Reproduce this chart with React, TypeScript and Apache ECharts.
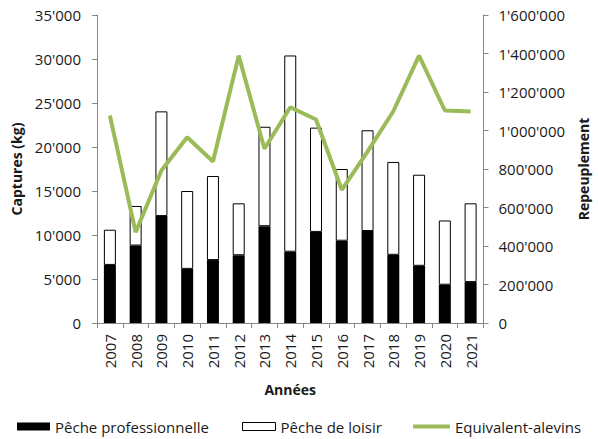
import React, { useEffect, useRef } from "react";
import * as echarts from "echarts";

const years = ["2007","2008","2009","2010","2011","2012","2013","2014","2015","2016","2017","2018","2019","2020","2021"];
const professionnelle = [6600, 8800, 12150, 6150, 7150, 7700, 11000, 8100, 10350, 9350, 10450, 7750, 6500, 4350, 4650];
const loisir = [4000, 4500, 11900, 8850, 9550, 5900, 11300, 22300, 11850, 8150, 11450, 10550, 10350, 7300, 8950];
const alevins = [1078000, 472000, 792000, 965000, 839000, 1389000, 905000, 1121000, 1057000, 692000, 890000, 1100000, 1389000, 1104000, 1099000];

const FONT = "Open Sans";
const TXT = "#1a1a1a";
const AXIS = "#868686";
const GREEN = "#9BBB59";

const fmt = (v: number) => String(v).replace(/\B(?=(\d{3})+(?!\d))/g, "'");

export default function App() {
  const ref = useRef<HTMLDivElement>(null);
  useEffect(() => {
    if (!ref.current) return;
    const chart = echarts.init(ref.current, undefined, { renderer: "svg" });
    const legendText = { fontFamily: FONT, fontSize: 15, color: TXT };
    chart.setOption({
      animation: false,
      backgroundColor: "#fff",
      grid: { left: 97, right: 111, top: 15, bottom: 116, containLabel: false },
      legend: [
        {
          left: 17, top: 419, padding: 0, itemWidth: 33, itemHeight: 8, icon: "rect",
          textStyle: legendText, selectedMode: false,
          data: [{ name: "Pêche professionnelle", itemStyle: { color: "#000" } }],
        },
        {
          left: 242, top: 419, padding: 0, itemWidth: 33, itemHeight: 8, icon: "rect",
          textStyle: legendText, selectedMode: false,
          data: [{ name: "Pêche de loisir", itemStyle: { color: "#fff", borderColor: "#000", borderWidth: 1 } }],
        },
        {
          left: 413, top: 419, padding: 0, itemWidth: 37, itemHeight: 4, icon: "rect",
          textStyle: legendText, selectedMode: false,
          data: [{ name: "Equivalent-alevins", itemStyle: { color: GREEN } }],
        },
      ],
      xAxis: {
        type: "category",
        data: years,
        name: "Années",
        nameLocation: "middle",
        nameGap: 59,
        nameTextStyle: { fontFamily: FONT, fontSize: 14, fontWeight: "bold", color: TXT },
        axisLine: { lineStyle: { color: AXIS, width: 1 } },
        axisTick: { show: true, length: 5, lineStyle: { color: AXIS } },
        axisLabel: { rotate: 90, margin: 11, fontFamily: FONT, fontSize: 15, color: TXT, interval: 0 },
      },
      yAxis: [
        {
          type: "value",
          min: 0, max: 35000, interval: 5000,
          name: "Captures (kg)",
          nameLocation: "middle",
          nameRotate: 90,
          nameGap: 68,
          nameTextStyle: { fontFamily: FONT, fontSize: 14, fontWeight: "bold", color: TXT },
          axisLine: { show: true, lineStyle: { color: AXIS, width: 1 } },
          axisTick: { show: true, length: 5, lineStyle: { color: AXIS } },
          splitLine: { show: false },
          axisLabel: { margin: 16, fontFamily: FONT, fontSize: 15, color: TXT, formatter: fmt },
        },
        {
          type: "value",
          position: "right",
          min: 0, max: 1600000, interval: 200000,
          name: "Repeuplement",
          nameLocation: "middle",
          nameRotate: 90,
          nameGap: 90,
          nameTextStyle: { fontFamily: FONT, fontSize: 14, fontWeight: "bold", color: TXT },
          axisLine: { show: true, lineStyle: { color: AXIS, width: 1 } },
          axisTick: { show: true, length: 5, lineStyle: { color: AXIS } },
          splitLine: { show: false },
          axisLabel: { margin: 15, fontFamily: FONT, fontSize: 15, color: TXT, formatter: fmt },
        },
      ],
      series: [
        {
          name: "Pêche professionnelle",
          type: "bar",
          stack: "c",
          barWidth: 12,
          data: professionnelle,
          itemStyle: { color: "#000" },
        },
        {
          name: "Pêche de loisir",
          type: "bar",
          stack: "c",
          barWidth: 12,
          data: loisir,
          itemStyle: { color: "#fff", borderColor: "#000", borderWidth: 1 },
        },
        {
          name: "Equivalent-alevins",
          type: "line",
          yAxisIndex: 1,
          data: alevins,
          symbol: "none",
          lineStyle: { color: GREEN, width: 4 },
          itemStyle: { color: GREEN },
          z: 5,
        },
      ],
    });
    return () => chart.dispose();
  }, []);
  return <div ref={ref} style={{ width: 598, height: 439, position: "absolute", left: 0, top: 0 }} />;
}
